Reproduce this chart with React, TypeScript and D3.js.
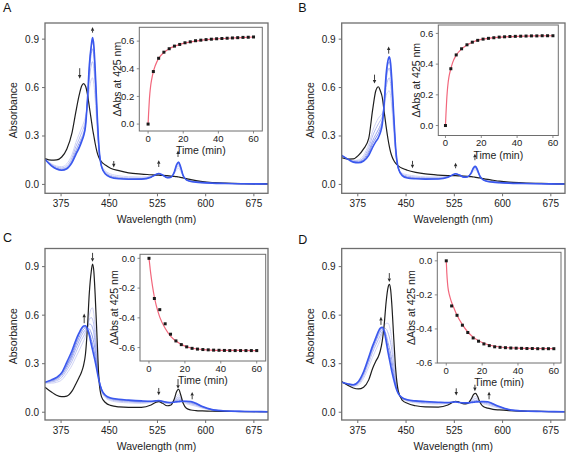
import React from 'react';
import * as d3 from 'd3';

// ---------------- data ----------------
const wavelengths = [
  350, 360, 368, 376, 384, 392, 398, 403, 407, 410,
  413, 416, 419, 422, 424, 426, 428, 431, 434, 438,
  444, 452, 465, 480, 500, 515, 522, 527, 533, 540,
  546, 551, 555, 558, 561, 565, 570, 577, 585, 595,
  610, 630, 660, 700,
];

// Panel A
const aBlack = [
  0.16, 0.15, 0.152, 0.17, 0.22, 0.32, 0.45, 0.55, 0.61, 0.625,
  0.61, 0.56, 0.48, 0.4, 0.345, 0.3, 0.255, 0.2, 0.165, 0.14,
  0.12, 0.1, 0.085, 0.072, 0.064, 0.06, 0.058, 0.057, 0.056, 0.054,
  0.052, 0.05, 0.048, 0.046, 0.044, 0.04, 0.036, 0.03, 0.024, 0.018,
  0.012, 0.008, 0.005, 0.003,
];
const aStep1 = [
  0.157, 0.128, 0.114, 0.11, 0.128, 0.185, 0.26, 0.31, 0.35, 0.38,
  0.42, 0.49, 0.59, 0.65, 0.66, 0.62, 0.53, 0.35, 0.2, 0.12,
  0.085, 0.065, 0.054, 0.048, 0.046, 0.051, 0.058, 0.062, 0.057, 0.047,
  0.048, 0.064, 0.092, 0.1, 0.082, 0.048, 0.032, 0.023, 0.018, 0.014,
  0.01, 0.007, 0.0045, 0.003,
];
const aStep2 = [
  0.156, 0.124, 0.107, 0.102, 0.115, 0.165, 0.235, 0.28, 0.32, 0.35,
  0.4, 0.51, 0.65, 0.74, 0.76, 0.72, 0.61, 0.39, 0.21, 0.115,
  0.077, 0.056, 0.045, 0.04, 0.039, 0.048, 0.059, 0.065, 0.057, 0.045,
  0.046, 0.069, 0.105, 0.115, 0.094, 0.051, 0.03, 0.021, 0.016, 0.012,
  0.009, 0.006, 0.004, 0.003,
];
const aStep3 = [
  0.156, 0.12, 0.1, 0.095, 0.105, 0.15, 0.21, 0.255, 0.29, 0.32,
  0.375, 0.52, 0.7, 0.81, 0.84, 0.795, 0.665, 0.42, 0.22, 0.112,
  0.071, 0.05, 0.04, 0.036, 0.035, 0.046, 0.06, 0.067, 0.058, 0.043,
  0.045, 0.072, 0.115, 0.127, 0.102, 0.053, 0.029, 0.019, 0.015, 0.011,
  0.008, 0.006, 0.004, 0.003,
];
const aStep4 = [
  0.155, 0.117, 0.097, 0.09, 0.1, 0.14, 0.195, 0.235, 0.275, 0.305,
  0.365, 0.52, 0.72, 0.85, 0.885, 0.84, 0.7, 0.44, 0.225, 0.11,
  0.067, 0.047, 0.037, 0.033, 0.034, 0.045, 0.06, 0.068, 0.058, 0.042,
  0.045, 0.074, 0.121, 0.134, 0.107, 0.054, 0.028, 0.018, 0.014, 0.011,
  0.008, 0.006, 0.004, 0.003,
];
const aBlue = [
  0.155, 0.115, 0.095, 0.088, 0.097, 0.135, 0.185, 0.225, 0.265, 0.3,
  0.36, 0.52, 0.74, 0.86, 0.91, 0.86, 0.72, 0.45, 0.23, 0.11,
  0.065, 0.045, 0.035, 0.032, 0.033, 0.045, 0.06, 0.068, 0.058, 0.042,
  0.045, 0.075, 0.125, 0.138, 0.11, 0.055, 0.028, 0.018, 0.014, 0.011,
  0.008, 0.006, 0.004, 0.003,
];

// Panel B
const bBlack = [
  0.165, 0.157, 0.158, 0.18, 0.22, 0.285, 0.46, 0.58, 0.605, 0.58,
  0.54, 0.45, 0.36, 0.28, 0.235, 0.2, 0.175, 0.148, 0.13, 0.115,
  0.1, 0.088, 0.075, 0.065, 0.058, 0.055, 0.054, 0.054, 0.053, 0.052,
  0.05, 0.048, 0.046, 0.044, 0.042, 0.04, 0.036, 0.031, 0.026, 0.02,
  0.014, 0.01, 0.006, 0.003,
];
const bStep1 = [
  0.175, 0.158, 0.148, 0.152, 0.18, 0.25, 0.33, 0.38, 0.41, 0.425,
  0.44, 0.47, 0.55, 0.575, 0.58, 0.55, 0.47, 0.32, 0.18, 0.1,
  0.07, 0.06, 0.052, 0.047, 0.046, 0.05, 0.057, 0.062, 0.056, 0.047,
  0.048, 0.062, 0.085, 0.09, 0.075, 0.047, 0.032, 0.023, 0.019, 0.015,
  0.011, 0.008, 0.005, 0.003,
];
const bStep2 = [
  0.177, 0.157, 0.145, 0.146, 0.168, 0.228, 0.3, 0.345, 0.375, 0.395,
  0.42, 0.49, 0.6, 0.65, 0.66, 0.625, 0.535, 0.36, 0.195, 0.1,
  0.065, 0.052, 0.045, 0.041, 0.041, 0.048, 0.057, 0.064, 0.057, 0.046,
  0.048, 0.065, 0.093, 0.099, 0.081, 0.048, 0.03, 0.021, 0.017, 0.013,
  0.01, 0.007, 0.0045, 0.003,
];
const bStep3 = [
  0.178, 0.156, 0.142, 0.141, 0.158, 0.208, 0.27, 0.31, 0.34, 0.365,
  0.4, 0.5, 0.64, 0.71, 0.72, 0.685, 0.585, 0.39, 0.205, 0.1,
  0.06, 0.046, 0.04, 0.037, 0.037, 0.046, 0.058, 0.065, 0.057, 0.046,
  0.048, 0.067, 0.099, 0.105, 0.085, 0.049, 0.029, 0.019, 0.015, 0.012,
  0.009, 0.006, 0.004, 0.003,
];
const bStep4 = [
  0.179, 0.155, 0.14, 0.137, 0.152, 0.195, 0.252, 0.288, 0.315, 0.345,
  0.385, 0.5, 0.66, 0.745, 0.76, 0.72, 0.615, 0.405, 0.212, 0.1,
  0.057, 0.043, 0.037, 0.035, 0.035, 0.045, 0.058, 0.066, 0.058, 0.045,
  0.048, 0.069, 0.103, 0.109, 0.088, 0.05, 0.028, 0.018, 0.014, 0.011,
  0.008, 0.006, 0.004, 0.003,
];
const bBlue = [
  0.18, 0.155, 0.138, 0.134, 0.145, 0.18, 0.23, 0.265, 0.29, 0.32,
  0.37, 0.5, 0.68, 0.77, 0.79, 0.75, 0.64, 0.42, 0.22, 0.1,
  0.055, 0.04, 0.035, 0.033, 0.034, 0.045, 0.058, 0.066, 0.058, 0.045,
  0.048, 0.07, 0.105, 0.112, 0.09, 0.05, 0.028, 0.018, 0.014, 0.011,
  0.008, 0.006, 0.004, 0.003,
];

// Panel C
const cBlack = [
  0.155, 0.125, 0.105, 0.096, 0.1, 0.13, 0.175, 0.215, 0.25, 0.29,
  0.36, 0.52, 0.74, 0.87, 0.915, 0.87, 0.73, 0.46, 0.2, 0.095,
  0.06, 0.042, 0.033, 0.03, 0.03, 0.045, 0.06, 0.066, 0.055, 0.04,
  0.045, 0.08, 0.13, 0.142, 0.11, 0.055, 0.025, 0.014, 0.01, 0.008,
  0.006, 0.005, 0.004, 0.003,
];
const cStep1 = [
  0.18, 0.18, 0.185, 0.2, 0.24, 0.29, 0.34, 0.38, 0.415, 0.44,
  0.47, 0.52, 0.6, 0.64, 0.645, 0.605, 0.53, 0.365, 0.215, 0.13,
  0.09, 0.072, 0.062, 0.058, 0.055, 0.06, 0.066, 0.07, 0.062, 0.053,
  0.055, 0.073, 0.1, 0.108, 0.092, 0.066, 0.053, 0.045, 0.037, 0.025,
  0.013, 0.007, 0.005, 0.003,
];
const cStep2 = [
  0.182, 0.187, 0.195, 0.215, 0.26, 0.315, 0.37, 0.415, 0.45, 0.47,
  0.495, 0.525, 0.575, 0.585, 0.575, 0.54, 0.475, 0.335, 0.21, 0.134,
  0.095, 0.078, 0.068, 0.064, 0.06, 0.063, 0.068, 0.071, 0.064, 0.056,
  0.057, 0.07, 0.088, 0.094, 0.085, 0.067, 0.058, 0.052, 0.043, 0.028,
  0.014, 0.007, 0.005, 0.003,
];
const cStep3 = [
  0.183, 0.192, 0.203, 0.227, 0.275, 0.335, 0.395, 0.44, 0.475, 0.495,
  0.51, 0.525, 0.545, 0.54, 0.52, 0.49, 0.43, 0.31, 0.205, 0.137,
  0.098, 0.082, 0.073, 0.068, 0.064, 0.065, 0.069, 0.071, 0.065, 0.058,
  0.058, 0.067, 0.078, 0.083, 0.078, 0.067, 0.062, 0.057, 0.047, 0.031,
  0.015, 0.008, 0.005, 0.003,
];
const cStep4 = [
  0.184, 0.195, 0.208, 0.235, 0.287, 0.35, 0.415, 0.462, 0.495, 0.513,
  0.52, 0.52, 0.515, 0.49, 0.465, 0.43, 0.385, 0.285, 0.2, 0.14,
  0.101, 0.085, 0.076, 0.071, 0.066, 0.066, 0.07, 0.072, 0.066, 0.06,
  0.059, 0.065, 0.072, 0.075, 0.073, 0.068, 0.065, 0.061, 0.05, 0.033,
  0.015, 0.008, 0.005, 0.003,
];
const cStep5 = [
  0.185, 0.198, 0.212, 0.241, 0.295, 0.362, 0.43, 0.48, 0.51, 0.527,
  0.527, 0.515, 0.49, 0.45, 0.42, 0.385, 0.345, 0.268, 0.2, 0.143,
  0.103, 0.087, 0.078, 0.073, 0.068, 0.067, 0.07, 0.072, 0.067, 0.061,
  0.06, 0.063, 0.067, 0.069, 0.069, 0.068, 0.067, 0.064, 0.053, 0.034,
  0.016, 0.008, 0.005, 0.003,
];
const cBlue = [
  0.185, 0.2, 0.215, 0.245, 0.31, 0.38, 0.445, 0.49, 0.52, 0.533,
  0.535, 0.515, 0.475, 0.42, 0.385, 0.35, 0.315, 0.255, 0.195, 0.14,
  0.105, 0.088, 0.08, 0.075, 0.07, 0.068, 0.07, 0.072, 0.067, 0.062,
  0.06, 0.062, 0.064, 0.065, 0.066, 0.068, 0.068, 0.066, 0.055, 0.035,
  0.016, 0.008, 0.005, 0.003,
];

// Panel D
const dBlack = [
  0.19, 0.165, 0.15, 0.144, 0.155, 0.2, 0.27, 0.315, 0.345, 0.38,
  0.44, 0.54, 0.68, 0.77, 0.79, 0.76, 0.66, 0.45, 0.26, 0.13,
  0.075, 0.055, 0.04, 0.033, 0.032, 0.045, 0.06, 0.068, 0.062, 0.052,
  0.055, 0.08, 0.11, 0.117, 0.1, 0.06, 0.035, 0.025, 0.018, 0.014,
  0.01, 0.007, 0.005, 0.003,
];
const dStep1 = [
  0.186, 0.17, 0.16, 0.168, 0.21, 0.28, 0.34, 0.385, 0.42, 0.45,
  0.49, 0.53, 0.55, 0.55, 0.535, 0.5, 0.445, 0.33, 0.215, 0.122,
  0.085, 0.068, 0.058, 0.053, 0.05, 0.054, 0.061, 0.066, 0.061, 0.055,
  0.057, 0.072, 0.092, 0.097, 0.088, 0.064, 0.052, 0.045, 0.035, 0.025,
  0.013, 0.007, 0.005, 0.003,
];
const dStep2 = [
  0.186, 0.172, 0.164, 0.176, 0.225, 0.305, 0.37, 0.415, 0.45, 0.475,
  0.5, 0.52, 0.515, 0.49, 0.465, 0.43, 0.38, 0.285, 0.195, 0.12,
  0.087, 0.072, 0.063, 0.058, 0.055, 0.056, 0.062, 0.065, 0.061, 0.056,
  0.057, 0.067, 0.08, 0.084, 0.079, 0.064, 0.057, 0.052, 0.041, 0.029,
  0.014, 0.007, 0.005, 0.003,
];
const dStep3 = [
  0.185, 0.173, 0.167, 0.182, 0.237, 0.322, 0.39, 0.437, 0.475, 0.497,
  0.512, 0.51, 0.48, 0.43, 0.4, 0.365, 0.32, 0.245, 0.175, 0.118,
  0.088, 0.074, 0.066, 0.062, 0.058, 0.058, 0.062, 0.065, 0.06, 0.057,
  0.058, 0.063, 0.07, 0.073, 0.072, 0.065, 0.061, 0.058, 0.046, 0.032,
  0.015, 0.008, 0.005, 0.003,
];
const dStep4 = [
  0.185, 0.174, 0.169, 0.186, 0.244, 0.333, 0.402, 0.45, 0.49, 0.51,
  0.52, 0.505, 0.46, 0.4, 0.365, 0.325, 0.285, 0.22, 0.165, 0.116,
  0.089, 0.076, 0.068, 0.064, 0.06, 0.059, 0.062, 0.064, 0.06, 0.058,
  0.058, 0.061, 0.065, 0.067, 0.067, 0.065, 0.064, 0.062, 0.05, 0.034,
  0.016, 0.008, 0.005, 0.003,
];
const dBlue = [
  0.185, 0.175, 0.17, 0.19, 0.25, 0.34, 0.41, 0.46, 0.5, 0.52,
  0.525, 0.5, 0.44, 0.37, 0.33, 0.29, 0.25, 0.2, 0.155, 0.115,
  0.09, 0.077, 0.07, 0.066, 0.062, 0.06, 0.062, 0.064, 0.06, 0.058,
  0.058, 0.06, 0.062, 0.063, 0.064, 0.065, 0.066, 0.065, 0.052, 0.035,
  0.016, 0.008, 0.005, 0.003,
];

// Kinetics (inset) data
const timePoints = [0, 3, 6, 9, 12, 15, 18, 21, 24, 27, 30, 33, 36, 39, 42, 45, 48, 51, 54, 57, 60];
const aKinetic = [0, 0.38, 0.476, 0.52, 0.545, 0.564, 0.576, 0.588, 0.595, 0.603, 0.607, 0.611, 0.614, 0.617, 0.619, 0.621, 0.623, 0.625, 0.627, 0.628, 0.63];
const bKinetic = [0, 0.37, 0.46, 0.5, 0.526, 0.543, 0.555, 0.563, 0.568, 0.572, 0.576, 0.578, 0.58, 0.581, 0.582, 0.583, 0.584, 0.584, 0.585, 0.585, 0.585];
const cKinetic = [0, -0.27, -0.345, -0.44, -0.51, -0.555, -0.58, -0.595, -0.605, -0.61, -0.613, -0.615, -0.617, -0.618, -0.619, -0.62, -0.62, -0.62, -0.62, -0.62, -0.62];
const dKinetic = [0, -0.265, -0.32, -0.378, -0.421, -0.453, -0.472, -0.488, -0.498, -0.505, -0.508, -0.51, -0.512, -0.513, -0.514, -0.515, -0.515, -0.516, -0.516, -0.516, -0.516];

const fitTimes = [0, 0.3, 0.7, 1, 1.5, 2, 3, 4, 6, 9, 12, 15, 20, 25, 30, 40, 50, 60];
const aFit = [0, 0.08, 0.17, 0.22, 0.28, 0.32, 0.38, 0.42, 0.475, 0.518, 0.545, 0.563, 0.584, 0.597, 0.606, 0.617, 0.624, 0.63];
const bFit = [0, 0.08, 0.17, 0.22, 0.28, 0.32, 0.37, 0.41, 0.458, 0.498, 0.525, 0.543, 0.561, 0.57, 0.575, 0.581, 0.584, 0.585];
const cFit = [0, -0.03, -0.075, -0.105, -0.15, -0.19, -0.26, -0.315, -0.395, -0.47, -0.523, -0.556, -0.59, -0.606, -0.613, -0.618, -0.619, -0.62];
const dFit = [0, -0.07, -0.13, -0.16, -0.19, -0.21, -0.245, -0.27, -0.32, -0.375, -0.418, -0.448, -0.48, -0.497, -0.506, -0.513, -0.515, -0.516];

// Arrows: wavelength, tail absorbance, head absorbance
const aArrowWl = [404, 424, 457, 527, 557];
const aArrowFrom = [0.72, 0.94, 0.145, 0.108, 0.17];
const aArrowTo = [0.655, 0.975, 0.105, 0.15, 0.21];
const bArrowWl = [401, 423, 460, 527, 557];
const bArrowFrom = [0.68, 0.81, 0.146, 0.1, 0.15];
const bArrowTo = [0.625, 0.855, 0.1, 0.135, 0.19];
const cArrowWl = [411, 424, 527, 557, 579];
const cArrowFrom = [0.55, 0.985, 0.15, 0.205, 0.08];
const cArrowTo = [0.61, 0.93, 0.105, 0.145, 0.125];
const dArrowWl = [411, 424, 528, 557, 579];
const dArrowFrom = [0.54, 0.86, 0.148, 0.17, 0.08];
const dArrowTo = [0.59, 0.805, 0.103, 0.13, 0.127];

const wlTicks = [375, 450, 525, 600, 675];
const absTicks = [0, 0.3, 0.6, 0.9];
const timeTicks = [0, 20, 40, 60];
const posKinTicks = [0, 0.2, 0.4, 0.6];
const negKinTicks = [0, -0.2, -0.4, -0.6];

// ---------------- styling / layout ----------------
const FONT = "'Liberation Sans', Arial, Helvetica, sans-serif";
const W = 567;
const H = 454;
const BLACK = '#1e1e1e';
const BLUE = '#3a58ee';
const FRAME = '#6e6e6e';
const FIT = '#f2677c';
const light4 = ['#d0d3f5', '#b5bcf1', '#9aa5ee', '#808fec'];
const light5 = ['#d0d3f5', '#bbc1f2', '#a6aff0', '#919eed', '#7c8deb'];
const WL_DOMAIN: [number, number] = [350, 697];

interface Frame { x0: number; x1: number; y0: number; y1: number }

interface PanelCfg {
  key: string;
  letter: string;
  letterPos: [number, number];
  frame: Frame;
  yDomain: [number, number];
  steps: number[][];
  stepColors: string[];
  black: number[];
  blue: number[];
  arrowWl: number[];
  arrowFrom: number[];
  arrowTo: number[];
  inset: {
    frame: Frame;
    xDomain: [number, number];
    yDomain: [number, number];
    yTicks: number[];
    titleOffset: number;
    kinetic: number[];
    fit: number[];
  };
}

const panels: PanelCfg[] = [
  {
    key: 'A', letter: 'A', letterPos: [3, 11.7],
    frame: { x0: 45, x1: 268, y0: 23, y1: 193.3 },
    yDomain: [-0.055, 1.0],
    steps: [aStep1, aStep2, aStep3, aStep4], stepColors: light4,
    black: aBlack, blue: aBlue,
    arrowWl: aArrowWl, arrowFrom: aArrowFrom, arrowTo: aArrowTo,
    inset: {
      frame: { x0: 139.3, x1: 262.3, y0: 27.3, y1: 131 },
      xDomain: [-5, 65], yDomain: [-0.05, 0.7], yTicks: posKinTicks, titleOffset: 18.5,
      kinetic: aKinetic, fit: aFit,
    },
  },
  {
    key: 'B', letter: 'B', letterPos: [298.3, 11.7],
    frame: { x0: 341.7, x1: 565, y0: 23, y1: 193.3 },
    yDomain: [-0.055, 1.0],
    steps: [bStep1, bStep2, bStep3, bStep4], stepColors: light4,
    black: bBlack, blue: bBlue,
    arrowWl: bArrowWl, arrowFrom: bArrowFrom, arrowTo: bArrowTo,
    inset: {
      frame: { x0: 438.3, x1: 558.3, y0: 25, y1: 135.5 },
      xDomain: [-4, 63], yDomain: [-0.065, 0.655], yTicks: posKinTicks, titleOffset: 18.5,
      kinetic: bKinetic, fit: bFit,
    },
  },
  {
    key: 'C', letter: 'C', letterPos: [3, 241.7],
    frame: { x0: 45, x1: 268, y0: 248.5, y1: 420 },
    yDomain: [-0.048, 1.012],
    steps: [cStep1, cStep2, cStep3, cStep4, cStep5], stepColors: light5,
    black: cBlack, blue: cBlue,
    arrowWl: cArrowWl, arrowFrom: cArrowFrom, arrowTo: cArrowTo,
    inset: {
      frame: { x0: 140, x1: 265.7, y0: 254.3, y1: 361 },
      xDomain: [-5, 65], yDomain: [-0.69, 0.027], yTicks: negKinTicks, titleOffset: 22,
      kinetic: cKinetic, fit: cFit,
    },
  },
  {
    key: 'D', letter: 'D', letterPos: [298.3, 244],
    frame: { x0: 341.7, x1: 565, y0: 248.5, y1: 420 },
    yDomain: [-0.048, 1.012],
    steps: [dStep1, dStep2, dStep3, dStep4], stepColors: light4,
    black: dBlack, blue: dBlue,
    arrowWl: dArrowWl, arrowFrom: dArrowFrom, arrowTo: dArrowTo,
    inset: {
      frame: { x0: 437.3, x1: 561, y0: 252.3, y1: 363 },
      xDomain: [-5, 64], yDomain: [-0.6, 0.05], yTicks: negKinTicks, titleOffset: 22,
      kinetic: dKinetic, fit: dFit,
    },
  },
];

const fmt1 = d3.format('.1f');
const fmtTick = (t: number) => (t < 0 ? '-' + fmt1(-t) : fmt1(t));

function pairs(xs: number[], ys: number[]): [number, number][] {
  const out: [number, number][] = [];
  for (let i = 0; i < xs.length; i++) {
    if (ys[i] !== undefined && !isNaN(ys[i])) out.push([xs[i], ys[i]]);
  }
  return out;
}

function ArrowMark({ x, yTail, yHead }: { x: number; yTail: number; yHead: number }) {
  const dir = yHead > yTail ? 1 : -1;
  const hl = 3.6;
  const hw = 1.7;
  const shaftEnd = yHead - dir * hl;
  return (
    <g>
      <line x1={x} x2={x} y1={yTail} y2={shaftEnd} stroke="#2a2a2a" strokeWidth={0.9} />
      <path d={`M${x - hw},${shaftEnd} L${x + hw},${shaftEnd} L${x},${yHead} Z`} fill="#2a2a2a" />
    </g>
  );
}

function Inset({ cfg }: { cfg: PanelCfg['inset'] }) {
  const f = cfg.frame;
  const x = d3.scaleLinear().domain(cfg.xDomain).range([f.x0, f.x1]);
  const y = d3.scaleLinear().domain(cfg.yDomain).range([f.y1, f.y0]);
  const fitLine = d3
    .line<[number, number]>()
    .x((d) => x(d[0]))
    .y((d) => y(d[1]))
    .curve(d3.curveMonotoneX);
  const cx = (f.x0 + f.x1) / 2;
  const cy = (f.y0 + f.y1) / 2;
  return (
    <g>
      <rect x={f.x0} y={f.y0} width={f.x1 - f.x0} height={f.y1 - f.y0} fill="#fff" stroke={FRAME} strokeWidth={1} />
      {cfg.yTicks.map((t) => (
        <g key={'y' + t}>
          <line x1={f.x0 - 2.5} x2={f.x0} y1={y(t)} y2={y(t)} stroke={FRAME} strokeWidth={0.8} />
          <text x={f.x0 - 5} y={y(t)} dy="0.35em" textAnchor="end" fontSize={9.5} fill="#222">
            {fmtTick(t)}
          </text>
        </g>
      ))}
      {timeTicks.map((t) => (
        <g key={'x' + t}>
          <line x1={x(t)} x2={x(t)} y1={f.y1} y2={f.y1 + 2.5} stroke={FRAME} strokeWidth={0.8} />
          <text x={x(t)} y={f.y1 + 10.5} textAnchor="middle" fontSize={9.5} fill="#222">
            {t}
          </text>
        </g>
      ))}
      <text x={cx} y={f.y1 + 23} textAnchor="middle" fontSize={10.5} fill="#222">
        Time (min)
      </text>
      <text
        transform={`translate(${f.x0 - cfg.titleOffset},${cy}) rotate(-90)`}
        textAnchor="middle"
        fontSize={10.5}
        fill="#222"
      >
        ΔAbs at 425 nm
      </text>
      <path d={fitLine(pairs(fitTimes, cfg.fit)) || ''} fill="none" stroke={FIT} strokeWidth={1.2} />
      {pairs(timePoints, cfg.kinetic).map(([t, v]) => (
        <rect key={'p' + t} x={x(t) - 1.5} y={y(v) - 1.5} width={3} height={3} fill="#1a1a1a" />
      ))}
    </g>
  );
}

function Panel({ cfg }: { cfg: PanelCfg }) {
  const f = cfg.frame;
  const x = d3.scaleLinear().domain(WL_DOMAIN).range([f.x0, f.x1]);
  const y = d3.scaleLinear().domain(cfg.yDomain).range([f.y1, f.y0]);
  const line = d3
    .line<[number, number]>()
    .x((d) => x(d[0]))
    .y((d) => y(d[1]))
    .curve(d3.curveMonotoneX);
  const clipId = 'clip-' + cfg.key;
  const cx = (f.x0 + f.x1) / 2;
  const cy = (f.y0 + f.y1) / 2;
  return (
    <g>
      <defs>
        <clipPath id={clipId}>
          <rect x={f.x0} y={f.y0} width={f.x1 - f.x0} height={f.y1 - f.y0} />
        </clipPath>
      </defs>
      <text x={cfg.letterPos[0]} y={cfg.letterPos[1]} fontSize={12.5} fill="#111">
        {cfg.letter}
      </text>
      <g clipPath={`url(#${clipId})`}>
        {cfg.steps.map((s, i) => (
          <path
            key={'s' + i}
            d={line(pairs(wavelengths, s)) || ''}
            fill="none"
            stroke={cfg.stepColors[i]}
            strokeWidth={1}
          />
        ))}
        <path d={line(pairs(wavelengths, cfg.black)) || ''} fill="none" stroke={BLACK} strokeWidth={1.2} />
        <path d={line(pairs(wavelengths, cfg.blue)) || ''} fill="none" stroke={BLUE} strokeWidth={1.6} />
      </g>
      {cfg.arrowWl.map((w, i) => (
        <ArrowMark key={'a' + i} x={x(w)} yTail={y(cfg.arrowFrom[i])} yHead={y(cfg.arrowTo[i])} />
      ))}
      <rect x={f.x0} y={f.y0} width={f.x1 - f.x0} height={f.y1 - f.y0} fill="none" stroke={FRAME} strokeWidth={1.3} />
      {absTicks.map((t) => (
        <g key={'y' + t}>
          <line x1={f.x0 - 3} x2={f.x0} y1={y(t)} y2={y(t)} stroke={FRAME} strokeWidth={1} />
          <text x={f.x0 - 6} y={y(t)} dy="0.35em" textAnchor="end" fontSize={10} fill="#222">
            {fmt1(t)}
          </text>
        </g>
      ))}
      {wlTicks.map((t) => (
        <g key={'x' + t}>
          <line x1={x(t)} x2={x(t)} y1={f.y1} y2={f.y1 + 3} stroke={FRAME} strokeWidth={1} />
          <text x={x(t)} y={f.y1 + 13.5} textAnchor="middle" fontSize={10} fill="#222">
            {t}
          </text>
        </g>
      ))}
      <text x={cx} y={f.y1 + 29.5} textAnchor="middle" fontSize={10.5} fill="#222">
        Wavelength (nm)
      </text>
      <text
        transform={`translate(${f.x0 - 28},${cy + 2}) rotate(-90)`}
        textAnchor="middle"
        fontSize={10.5}
        fill="#222"
      >
        Absorbance
      </text>
      <Inset cfg={cfg.inset} />
    </g>
  );
}

export default function App() {
  return (
    <div style={{ position: 'fixed', left: 0, top: 0, width: W, height: H, background: '#fff' }}>
      <svg width={W} height={H} viewBox={`0 0 ${W} ${H}`} style={{ display: 'block', fontFamily: FONT }}>
        <rect x={0} y={0} width={W} height={H} fill="#fff" />
        {panels.map((p) => (
          <Panel key={p.key} cfg={p} />
        ))}
      </svg>
    </div>
  );
}
